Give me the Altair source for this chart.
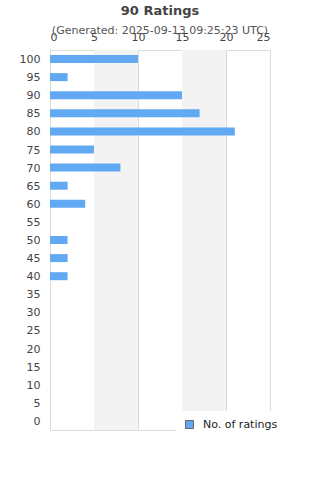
import altair as alt
import pandas as pd

ratings = [100, 95, 90, 85, 80, 75, 70, 65, 60, 55, 50, 45, 40, 35, 30, 25, 20, 15, 10, 5, 0]
counts = [10, 2, 15, 17, 21, 5, 8, 2, 4, 0, 2, 2, 2, 0, 0, 0, 0, 0, 0, 0, 0]
band_starts = [5, 15]
band_ends = [10, 20]
x_ticks = [0, 5, 10, 15, 20, 25]
series_name = "No. of ratings"

labels = [str(r) for r in ratings]
df = pd.DataFrame({"rating": labels, "count": counts, "series": series_name})
bands = pd.DataFrame({"x0": band_starts, "x1": band_ends})

xscale = alt.Scale(domain=[0, 25], nice=False)
yscale = alt.Scale(domain=labels)

bg = alt.Chart(bands).mark_rect(color="#f3f3f3").encode(
    x=alt.X("x0:Q", scale=xscale),
    x2="x1:Q",
    y=alt.value(0),
    y2=alt.value(380),
)

bars = alt.Chart(df).mark_bar(height=8).encode(
    x=alt.X("count:Q", scale=xscale,
            axis=alt.Axis(orient="top", values=x_ticks, title=None, grid=True,
                          gridColor="#dcdcdc", domain=False, ticks=False,
                          labelPadding=8, labelFontSize=11, labelColor="#444",
                          labelFont="DejaVu Sans")),
    y=alt.Y("rating:O", scale=yscale, sort=labels,
            axis=alt.Axis(title=None, domain=False, ticks=False, labelPadding=10,
                          labelFontSize=11, labelColor="#444", labelFont="DejaVu Sans",
                          labelBaseline="middle", labelOffset=1)),
    color=alt.Color("series:N", scale=alt.Scale(range=["#62a9f3"]),
                    legend=alt.Legend(title=None, orient="none", legendX=126, legendY=361,
                                      fillColor="white", padding=8, symbolType="square",
                                      symbolStrokeColor="#666", symbolStrokeWidth=1,
                                      symbolSize=64, labelFontSize=11, labelColor="#222",
                                      labelFont="DejaVu Sans", labelOffset=8)),
)

chart = alt.layer(bg, bars).properties(
    width=220,
    height=380,
    title=alt.TitleParams(
        "90 Ratings",
        subtitle="(Generated: 2025-09-13 09:25:23 UTC)",
        font="DejaVu Sans", fontSize=13, fontWeight="bold", color="#444",
        subtitleFont="DejaVu Sans", subtitleFontSize=11, subtitleColor="#555",
        subtitlePadding=7, anchor="middle", frame="group", offset=-5,
    ),
    autosize=alt.AutoSizeParams(type="none"),
    padding={"left": 50, "top": 50, "right": 50, "bottom": 50},
).configure_view(stroke="#dcdcdc", strokeWidth=1.5).configure(background="white")

chart.save("out.html", embed_options={"renderer": "svg", "actions": False})
